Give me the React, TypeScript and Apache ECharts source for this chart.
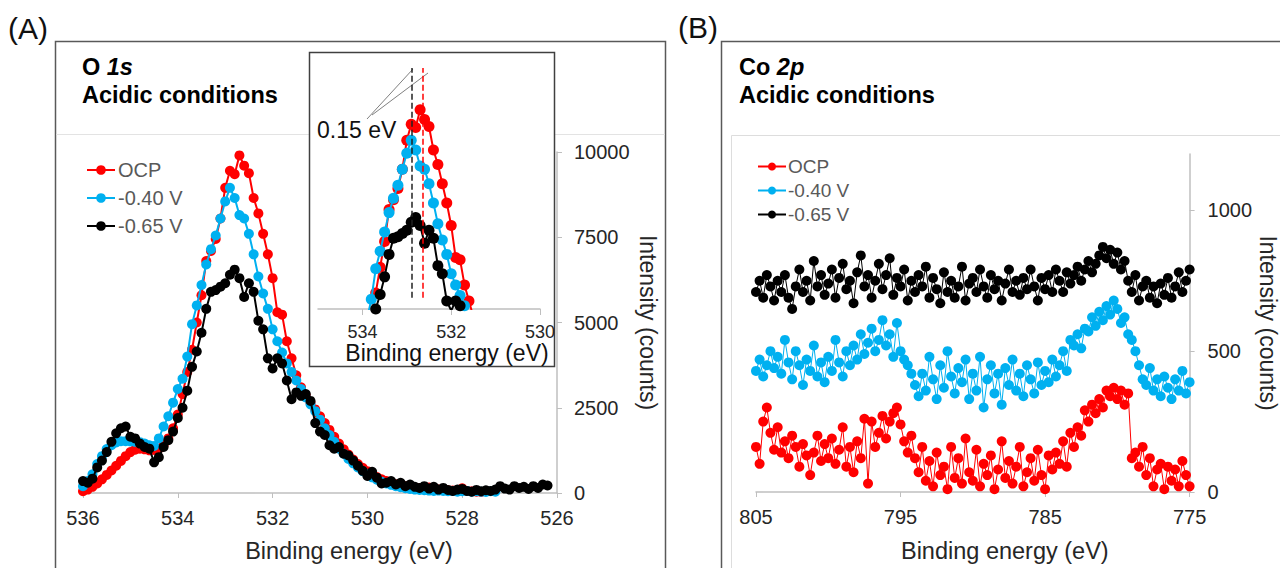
import React, { useEffect, useRef } from 'react';
import * as echarts from 'echarts';

const FONT = '"Liberation Sans", Arial, Helvetica, sans-serif';
const RED = '#FF0000';
const BLUE = '#00B0F0';
const BLACK = '#000000';
const AXIS = '#BFBFBF';
const LABEL = '#262626';

const seriesNames = ['OCP', '-0.40 V', '-0.65 V'];

// ---------- Panel A : O 1s (binding energy from 536.0 eV, 0.1 eV steps) ----------
const oStart = 536.0;
const oStep = 0.1;
const ocpO = [
  50, 100, 180, 280, 400, 530, 660, 800, 940, 1080,
  1200, 1270, 1300, 1280, 1250, 1260, 1300, 1400, 1600, 1900,
  2300, 2900, 3550, 4200, 5000, 5800, 6800, 7100, 7450, 8050,
  8950, 9450, 9350, 9900, 9600, 9380, 8650, 8200, 7600, 7000,
  6300, 5300, 5230, 4450, 3950, 3450, 3100, 2850, 2650, 2450,
  2250, 2050, 1850, 1650, 1450, 1280, 1130, 980, 850, 740,
  640, 550, 470, 400, 350, 300, 260, 230, 200, 180,
  160, 150, 130, 160, 120, 100, 90, 80, 70, 60,
  140, 60, 50, 40, 30,
];
const v040O = [
  200, 350, 550, 850, 1080, 1290, 1400, 1480, 1520, 1520,
  1510, 1500, 1490, 1450, 1400, 1380, 1600, 1950, 2250, 2650,
  3050, 3350, 4000, 4950, 5500, 6100, 6700, 7150, 7550, 8050,
  8550, 8950, 8650, 8150, 8050, 7600, 7000, 6350, 5850, 5400,
  4800, 4450, 4120, 3800, 3550, 3300, 3050, 2800, 2600, 2400,
  2150, 1900, 1700, 1500, 1300, 1150, 1000, 870, 750, 640,
  550, 460, 390, 330, 280, 240, 200, 170, 140, 120,
  100, 90, 80, 70, 60, 70, 60, 50, 60, 40,
  50, 60, 40, 50, 40, 30, 50, 40,
];
const v065O = [
  350, 300, 420, 750, 950, 1200, 1500, 1750, 1900, 1950,
  1650, 1600, 1450, 1350, 1300, 900, 1050, 1350, 1550, 1800,
  2200, 2500, 3000, 3700, 4150, 4700, 5400, 5900, 5950, 6050,
  6150, 6400, 6550, 6300, 5750, 6150, 5900, 5050, 4800, 3950,
  3650, 3950, 3800, 3300, 2750, 2950, 2850, 2900, 2700, 2050,
  1800, 1700, 1400, 1300, 1350, 1150, 1100, 950, 800, 650,
  500, 620, 450, 280, 300, 350, 250, 300, 200, 250,
  180, 150, 200, 130, 180, 100, 150, 90, 60, 100,
  120, 60, 40, 90, 50, 80, 60, 100, 200, 130,
  100, 200, 150, 180, 120, 200, 150, 250, 220,
];
const oIntensityTicks = [0, 2500, 5000, 7500, 10000];
const insetEnergyTicks = [534, 532, 530];
const peakPosV065 = 532.88;
const peakPosOCP = 532.64;
const shiftLabel = '0.15 eV';

// ---------- Panel B : Co 2p (binding energy from 805 eV, 0.25 eV steps) ----------
const coStart = 805;
const coStep = 0.25;
const ocpCo = [
  160, 100, 250, 300, 210, 150, 230, 140, 180, 120, 200, 160,
  90, 170, 130, 60, 140, 200, 110, 170, 120, 190, 100, 150,
  230, 90, 160, 70, 180, 120, 260, 30, 250, 160, 210, 270,
  190, 250, 280, 300, 240, 180, 140, 200, 120, 70, 160, 40,
  110, 20, 140, 60, 90, 10, 160, 50, 120, 30, 190, 70,
  40, 150, 20, 100, 60, 130, 10, 80, 180, 50, 110, 30,
  90, 160, 20, 70, 120, 40, 150, 60, 10, 130, 80, 140,
  100, 180, 90, 210, 160, 230, 200, 290, 250, 310, 280, 330,
  300, 360, 340, 370, 330, 360, 310, 350, 120, 140, 90, 160,
  60, 120, 20, 80, 100, 10, 90, 40, 80, 20, 110, 60, 20,
];
const v040Co = [
  430, 470, 410, 450, 500, 440, 480, 420, 540, 460, 400, 500,
  450, 380, 470, 430, 520, 410, 460, 390, 480, 430, 540, 460,
  410, 500, 450, 520, 470, 560, 490, 530, 580, 500, 540, 610,
  520, 560, 480, 600, 500, 470, 450, 420, 380, 340, 420, 360,
  480, 400, 330, 450, 370, 500, 410, 350, 440, 390, 470, 330,
  420, 360, 480, 300, 400, 450, 350, 420, 310, 440, 380, 470,
  360, 420, 340, 450, 400, 350, 460, 380, 430, 390, 470, 410,
  450, 500, 430, 540, 520, 560, 510, 580, 570, 620, 590, 640,
  610, 660, 630, 680, 650, 600, 620, 560, 540, 500, 450, 400,
  380, 440, 360, 400, 340, 410, 370, 330, 400, 360, 430, 350, 390,
];
const v065Co = [
  710, 750, 690, 770, 730, 680, 750, 710, 770, 690, 650, 730,
  790, 710, 750, 680, 820, 730, 770, 700, 740, 790, 690, 760,
  810, 720, 750, 670, 780, 840, 730, 770, 690, 750, 810, 720,
  770, 830, 700, 760, 730, 790, 680, 750, 710, 770, 730, 800,
  690, 760, 720, 670, 780, 710, 750, 690, 730, 800, 680, 740,
  760, 710, 790, 730, 690, 770, 720, 750, 680, 740, 790, 710,
  750, 700, 760, 720, 790, 730, 680, 760, 720, 770, 710, 790,
  750, 710, 780, 740, 770, 800, 750, 790, 820, 780, 810, 840,
  870, 830, 860, 810, 850, 790, 820, 750, 710, 770, 680, 730,
  750, 690, 730, 670, 740, 700, 760, 690, 730, 780, 710, 750, 790,
];
const coEnergyTicks = [805, 795, 785, 775];
const coIntensityTicks = [0, 500, 1000];

const colors = [RED, BLUE, BLACK];

function pairs(vals: number[], start: number, step: number) {
  return vals.map((v, i) => [+(start - i * step).toFixed(2), v]);
}

const plain = (v: number) => String(v);

export default function App() {
  const ref = useRef<HTMLDivElement>(null);

  useEffect(() => {
    if (!ref.current) return;
    const chart = echarts.init(ref.current, undefined, { renderer: 'svg' });

    const oData = [ocpO, v040O, v065O].map((v) => pairs(v, oStart, oStep));
    const coData = [ocpCo, v040Co, v065Co].map((v) => pairs(v, coStart, coStep));

    const axisName = (size: number) => ({ fontSize: size, color: LABEL, fontFamily: FONT });

    const mainSeries = oData.map((d, i) => ({
      type: 'line',
      name: seriesNames[i],
      xAxisIndex: 0,
      yAxisIndex: 0,
      data: d,
      symbol: 'circle',
      symbolSize: 10,
      showSymbol: true,
      lineStyle: { color: colors[i], width: 2 },
      itemStyle: { color: colors[i] },
      z: 2 + i,
    }));

    const insetSeries = oData.map((d, i) => {
      const s: any = {
        type: 'line',
        name: seriesNames[i],
        xAxisIndex: 1,
        yAxisIndex: 1,
        data: d,
        symbol: 'circle',
        symbolSize: 11,
        showSymbol: true,
        clip: true,
        lineStyle: { color: colors[i], width: 2 },
        itemStyle: { color: colors[i] },
        z: 2 + i,
      };
      if (i === 0 || i === 2) {
        const pos = i === 0 ? peakPosOCP : peakPosV065;
        s.markLine = {
          silent: true,
          symbol: 'none',
          label: { show: false },
          lineStyle: { type: 'dashed', color: i === 0 ? RED : '#222', width: 1.5 },
          data: [[{ coord: [pos, 4050] }, { coord: [pos, 11200] }]],
        };
      }
      return s;
    });

    const coSeries = coData.map((d, i) => ({
      type: 'line',
      name: seriesNames[i],
      xAxisIndex: 2,
      yAxisIndex: 2,
      data: d,
      symbol: 'circle',
      symbolSize: 10,
      showSymbol: true,
      lineStyle: { color: colors[i], width: 1 },
      itemStyle: { color: colors[i] },
      z: 2 + i,
    }));

    const titleRich = {
      b: { fontSize: 23.5, fontWeight: 'bold', color: '#000', fontFamily: FONT, lineHeight: 28 },
      bi: { fontSize: 23.5, fontWeight: 'bold', fontStyle: 'italic', color: '#000', fontFamily: FONT, lineHeight: 28 },
    };

    const option: any = {
      animation: false,
      backgroundColor: '#fff',
      textStyle: { fontFamily: FONT },
      title: [
        { left: 82, top: 53, padding: 0, text: '{b|O }{bi|1s}\n{b|Acidic conditions}', textStyle: { rich: titleRich } },
        { left: 739, top: 53, padding: 0, text: '{b|Co }{bi|2p}\n{b|Acidic conditions}', textStyle: { rich: titleRich } },
      ],
      legend: [
        {
          left: 86, top: 160, orient: 'vertical', padding: 0, itemGap: 8,
          itemWidth: 28, itemHeight: 12, selectedMode: false,
          data: seriesNames,
          textStyle: { fontSize: 20, color: '#595959', fontFamily: FONT, padding: [0, 0, 0, -2] },
        },
        {
          left: 757, top: 157, orient: 'vertical', padding: 0, itemGap: 5,
          itemWidth: 28, itemHeight: 10, selectedMode: false,
          data: seriesNames,
          textStyle: { fontSize: 19, color: '#595959', fontFamily: FONT, padding: [0, 0, 0, -3] },
        },
      ],
      grid: [
        { left: 83, top: 152, width: 474, height: 342 },
        { left: 318, top: 60, width: 222, height: 249 },
        { left: 756, top: 154, width: 437, height: 341 },
      ],
      xAxis: [
        {
          gridIndex: 0, type: 'value', min: 526, max: 536, interval: 2, inverse: true,
          axisLine: { show: true, lineStyle: { color: AXIS, width: 1.5 } },
          axisTick: { show: true, length: 5, lineStyle: { color: AXIS } },
          axisLabel: { fontSize: 20, color: LABEL, margin: 15, formatter: plain },
          splitLine: { show: false },
          name: 'Binding energy (eV)', nameLocation: 'middle', nameGap: 46,
          nameTextStyle: { ...axisName(23.5), padding: [0, 0, 0, 58] },
        },
        {
          gridIndex: 1, type: 'value', min: 530, max: 535, inverse: true,
          axisLine: { show: true, lineStyle: { color: AXIS, width: 1.5 } },
          axisTick: { show: true, length: 6, lineStyle: { color: AXIS }, customValues: insetEnergyTicks },
          axisLabel: { fontSize: 18, color: LABEL, margin: 14, customValues: insetEnergyTicks, formatter: plain },
          splitLine: { show: false },
          name: 'Binding energy (eV)', nameLocation: 'middle', nameGap: 31,
          nameTextStyle: { ...axisName(23), color: '#111', padding: [0, 0, 0, 36] },
        },
        {
          gridIndex: 2, type: 'value', min: 775, max: 805, inverse: true,
          axisLine: { show: true, lineStyle: { color: AXIS, width: 1.5 } },
          axisTick: { show: true, length: 5, lineStyle: { color: AXIS }, customValues: coEnergyTicks },
          axisLabel: { fontSize: 20, color: LABEL, margin: 15, customValues: coEnergyTicks, formatter: plain },
          splitLine: { show: false },
          name: 'Binding energy (eV)', nameLocation: 'middle', nameGap: 47,
          nameTextStyle: { ...axisName(23.5), padding: [0, 0, 0, 64] },
        },
      ],
      yAxis: [
        {
          gridIndex: 0, type: 'value', position: 'right', min: 0, max: 10000, interval: 2500,
          axisLine: { show: true, lineStyle: { color: AXIS, width: 1.5 } },
          axisTick: { show: true, length: 5, lineStyle: { color: AXIS } },
          axisLabel: { fontSize: 20, color: LABEL, margin: 17, customValues: oIntensityTicks, formatter: plain },
          splitLine: { show: false },
          name: 'Intensity (counts)', nameLocation: 'middle', nameRotate: -90, nameGap: 79,
          nameTextStyle: axisName(23),
        },
        {
          gridIndex: 1, type: 'value', min: 3700, max: 11450, show: false,
          splitLine: { show: false },
        },
        {
          gridIndex: 2, type: 'value', position: 'right', min: 0, max: 1200,
          axisLine: { show: true, lineStyle: { color: AXIS, width: 1.5 } },
          axisTick: { show: true, length: 5, lineStyle: { color: AXIS }, customValues: coIntensityTicks },
          axisLabel: { fontSize: 20, color: LABEL, margin: 18, customValues: coIntensityTicks, formatter: plain },
          splitLine: { show: false },
          name: 'Intensity (counts)', nameLocation: 'middle', nameRotate: -90, nameGap: 64,
          nameTextStyle: axisName(23),
        },
      ],
      graphic: [
        { type: 'text', left: 8, top: 13, style: { text: '(A)', fontSize: 30, fill: '#111', fontFamily: FONT } },
        { type: 'text', left: 678, top: 12, style: { text: '(B)', fontSize: 30, fill: '#111', fontFamily: FONT } },
        {
          type: 'polyline', silent: true,
          shape: { points: [[55.5, 570], [55.5, 41.5], [665.5, 41.5], [665.5, 570]] },
          style: { stroke: '#595959', lineWidth: 1.5, fill: null },
        },
        {
          type: 'polyline', silent: true,
          shape: { points: [[721.5, 570], [721.5, 41.5], [1282, 41.5]] },
          style: { stroke: '#595959', lineWidth: 1.5, fill: null },
        },
        {
          type: 'polyline', silent: true,
          shape: { points: [[731.5, 570], [731.5, 135.5], [1282, 135.5]] },
          style: { stroke: '#DDDDDD', lineWidth: 1, fill: null },
        },
        { type: 'line', silent: true, shape: { x1: 56, y1: 134.5, x2: 309, y2: 134.5 }, style: { stroke: '#E3E3E3', lineWidth: 1 } },
        { type: 'line', silent: true, shape: { x1: 555, y1: 134.5, x2: 665, y2: 134.5 }, style: { stroke: '#E3E3E3', lineWidth: 1 } },
        {
          type: 'rect', silent: true,
          shape: { x: 309.5, y: 52.5, width: 245, height: 314 },
          style: { stroke: '#404040', lineWidth: 1.5, fill: null },
        },
        { type: 'text', left: 317, top: 118, style: { text: shiftLabel, fontSize: 23, fill: '#111', fontFamily: FONT } },
        { type: 'line', silent: true, shape: { x1: 367, y1: 119, x2: 413, y2: 69 }, style: { stroke: '#808080', lineWidth: 1 } },
        { type: 'line', silent: true, shape: { x1: 372, y1: 115, x2: 428, y2: 73 }, style: { stroke: '#808080', lineWidth: 1 } },
      ],
      series: [...mainSeries, ...insetSeries, ...coSeries],
    };

    chart.setOption(option);
    return () => chart.dispose();
  }, []);

  return (
    <div
      ref={ref}
      style={{ position: 'absolute', left: 0, top: 0, width: 1280, height: 568, background: '#fff' }}
    />
  );
}
